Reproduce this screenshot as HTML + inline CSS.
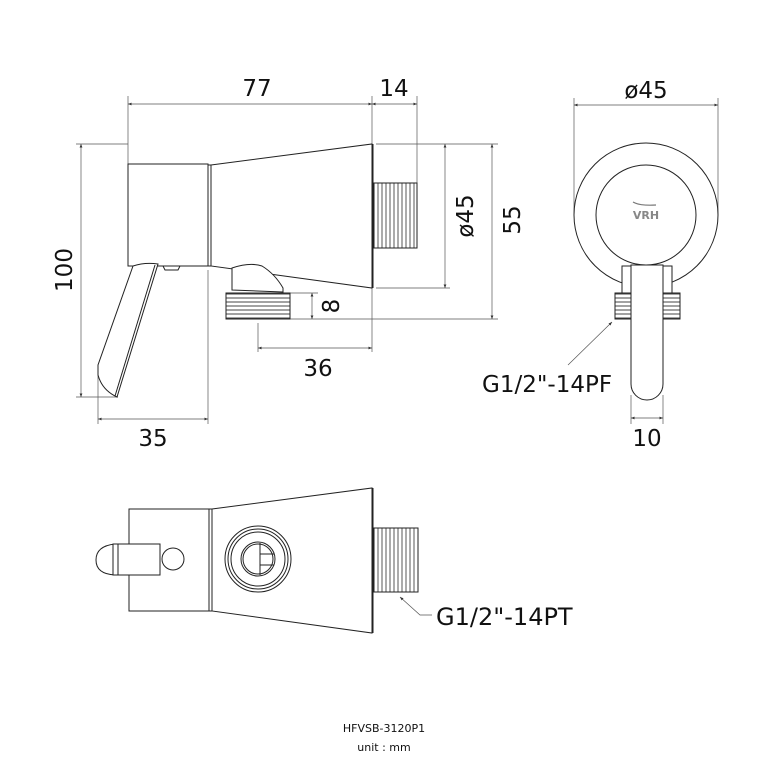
<!DOCTYPE html>
<html><head><style>
html,body{margin:0;padding:0;background:#fff;}
svg{display:block;}
text{font-family:"DejaVu Sans","Liberation Sans",sans-serif;fill:#111;}
</style></head><body>
<svg width="768" height="768" viewBox="0 0 768 768" xmlns="http://www.w3.org/2000/svg">
<defs>
<marker id="a" viewBox="0 0 10 10" refX="10" refY="5" markerWidth="7" markerHeight="5" orient="auto-start-reverse"><path d="M0,1 L10,5 L0,9 z" fill="#333"/></marker>
<pattern id="th" width="4" height="40" patternUnits="userSpaceOnUse"><line x1="2" y1="0" x2="2" y2="40" stroke="#444" stroke-width="0.9"/></pattern>
<pattern id="tv" width="40" height="4" patternUnits="userSpaceOnUse"><line x1="0" y1="2" x2="40" y2="2" stroke="#444" stroke-width="0.9"/></pattern>
</defs>
<g fill="none" stroke="#555" stroke-width="0.7">
<!-- top view dims -->
<line x1="128" y1="96" x2="128" y2="165"/>
<line x1="372" y1="96" x2="372" y2="352"/>
<line x1="417" y1="96" x2="417" y2="184"/>
<line x1="128" y1="104" x2="372" y2="104" marker-start="url(#a)" marker-end="url(#a)"/>
<line x1="372" y1="104" x2="417" y2="104" marker-start="url(#a)" marker-end="url(#a)"/>
<line x1="376" y1="144" x2="498" y2="144"/>
<line x1="376" y1="288" x2="450" y2="288"/>
<line x1="290" y1="319" x2="498" y2="319"/>
<line x1="290" y1="293" x2="318" y2="293"/>
<line x1="445" y1="144" x2="445" y2="288" marker-start="url(#a)" marker-end="url(#a)"/>
<line x1="492" y1="144" x2="492" y2="319" marker-start="url(#a)" marker-end="url(#a)"/>
<line x1="312" y1="293" x2="312" y2="319" marker-start="url(#a)" marker-end="url(#a)"/>
<line x1="258" y1="323" x2="258" y2="352"/>
<line x1="258" y1="348" x2="372" y2="348" marker-start="url(#a)" marker-end="url(#a)"/>
<line x1="76" y1="144" x2="128" y2="144"/>
<line x1="76" y1="397" x2="118" y2="397"/>
<line x1="81" y1="144" x2="81" y2="397" marker-start="url(#a)" marker-end="url(#a)"/>
<line x1="98" y1="370" x2="98" y2="424"/>
<line x1="208" y1="270" x2="208" y2="424"/>
<line x1="98" y1="419" x2="208" y2="419" marker-start="url(#a)" marker-end="url(#a)"/>
<!-- side view dims -->
<line x1="574" y1="98" x2="574" y2="215"/>
<line x1="718" y1="98" x2="718" y2="215"/>
<line x1="574" y1="105" x2="718" y2="105" marker-start="url(#a)" marker-end="url(#a)"/>
<line x1="631" y1="395" x2="631" y2="424"/>
<line x1="663" y1="395" x2="663" y2="424"/>
<line x1="631" y1="418" x2="663" y2="418" marker-start="url(#a)" marker-end="url(#a)"/>
<line x1="568" y1="365" x2="612" y2="322" marker-end="url(#a)"/>
<!-- bottom leader -->
<polyline points="432,615 420,615 400,597" marker-end="url(#a)"/>
</g>
<g fill="#fff" stroke="#222" stroke-width="1">
<!-- top view -->
<rect x="128" y="164" width="80" height="102"/>
<rect x="208" y="165" width="3" height="101"/>
<polygon points="211,165 372,144 372,288 211,266"/>
<line x1="373" y1="144" x2="373" y2="288"/>
<rect x="374" y="183" width="43" height="65" fill="url(#th)"/>
<path d="M232,290 L232,268 Q250,262 262,266 Q275,274 283,288 L283,292 Z"/>
<rect x="226" y="293" width="64" height="26" fill="url(#tv)"/>
<path d="M163,266 L180,266 L178,270 L165,270 Z"/>
<path d="M133,266 Q145,262 158,264 L117,397 Q102,390 98,375 L98,365 Z"/>
<line x1="155" y1="265" x2="115" y2="396"/>
<!-- side view -->
<circle cx="646" cy="215" r="72"/>
<circle cx="646" cy="215" r="50"/>
<rect x="622" y="266" width="9" height="28"/>
<rect x="663" y="266" width="9" height="28"/>
<rect x="615" y="293" width="16" height="26" fill="url(#tv)"/>
<rect x="663" y="293" width="17" height="26" fill="url(#tv)"/>
<path d="M631,265 L663,265 L663,384 A16,16 0 0 1 631,384 Z"/>
<!-- bottom view -->
<rect x="129" y="509" width="80" height="102"/>
<rect x="209" y="509" width="3" height="102"/>
<polygon points="212,509 372,488 372,633 212,611"/>
<line x1="373" y1="488" x2="373" y2="633"/>
<rect x="374" y="528" width="44" height="64" fill="url(#th)"/>
<path d="M115,544 Q96,546 96,560 Q96,574 115,575 Z"/>
<rect x="113" y="544" width="47" height="31"/>
<line x1="118" y1="544" x2="118" y2="575"/>
<circle cx="173" cy="559" r="11"/>
<circle cx="258" cy="559" r="33"/>
<circle cx="258" cy="559" r="30"/>
<circle cx="258" cy="559" r="27"/>
<circle cx="258" cy="559" r="17"/>
<circle cx="258" cy="559" r="15"/>
<line x1="260" y1="543" x2="260" y2="575"/>
<line x1="260" y1="554" x2="274" y2="554"/>
<line x1="260" y1="565" x2="274" y2="565"/>
</g>
<path d="M633,202 Q640,206 656,205" fill="none" stroke="#777" stroke-width="1.2"/>
<text x="646" y="219" font-size="11" text-anchor="middle" style="fill:#888" font-weight="bold">VRH</text>
<g font-size="23">
<text x="257" y="96" text-anchor="middle">77</text>
<text x="394" y="96" text-anchor="middle">14</text>
<text x="318" y="376" text-anchor="middle">36</text>
<text x="153" y="446" text-anchor="middle">35</text>
<text x="646" y="98" text-anchor="middle">ø45</text>
<text x="647" y="446" text-anchor="middle">10</text>
<text x="482" y="392">G1/2"-14PF</text>
<text x="436" y="625" font-size="24">G1/2"-14PT</text>
<text transform="translate(473,216) rotate(-90)" text-anchor="middle">ø45</text>
<text transform="translate(520,220) rotate(-90)" text-anchor="middle">55</text>
<text transform="translate(339,306) rotate(-90)" text-anchor="middle">8</text>
<text transform="translate(72,270) rotate(-90)" text-anchor="middle">100</text>
</g>
<text x="384" y="732" font-size="11" text-anchor="middle">HFVSB-3120P1</text>
<text x="384" y="751" font-size="11" text-anchor="middle">unit : mm</text>
</svg>
</body></html>
